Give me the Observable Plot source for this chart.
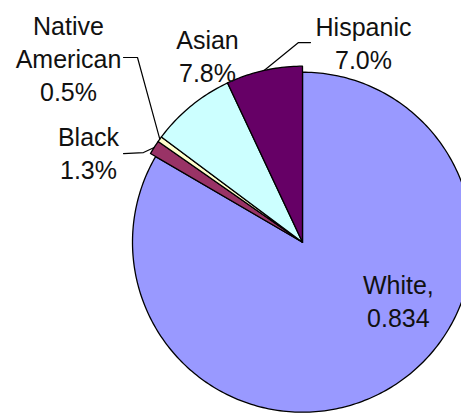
<!DOCTYPE html>
<html>
<head>
<meta charset="utf-8">
<script src="https://cdn.jsdelivr.net/npm/d3@7"></script>
<script src="https://cdn.jsdelivr.net/npm/@observablehq/plot@0.6"></script>
<style>
  html, body { margin: 0; padding: 0; background: #fff; }
  #chart { width: 461px; height: 413px; overflow: hidden; }
</style>
</head>
<body>
<div id="chart"></div>
<script>
// ---- data ----
const categories = ["White", "Black", "Native American", "Asian", "Hispanic"];
const shares = [83.4, 1.3, 0.5, 7.8, 7.0];
const labels = ["White,\n0.834", "Black\n1.3%", "Native\nAmerican\n0.5%", "Asian\n7.8%", "Hispanic\n7.0%"];
const colors = ["#9999FF", "#993366", "#FFFFCC", "#CCFFFF", "#660066"];

// ---- layout / style ----
const W = 461, H = 413;
const cx = 302, cy = 241.7;
const R = 170, Rsmall = 176;
const radiusOf = i => (i === 0 ? R : Rsmall);
// label placement relative to slice bisector anchor (anchor radius factor, pixel offsets)
const labelLayout = {
  "White": {rf: 0.6, dx: 45, dy: -31, leader: null},
  "Black": {rf: 1, dx: -65.7, dy: 4.6, leader: [[35, 1.5], [55, 0.5]]},
  "Native American": {rf: 1, dx: -91.3, dy: -81.7, leader: [[55, 0], [69, 0]]},
  "Asian": {rf: 1, dx: 16.3, dy: -51.4, leader: null},
  "Hispanic": {rf: 1, dx: 99.4, dy: -28.9, leader: [[-53, 1], [-65, 1]]}
};

const table = categories.map((c, i) => ({category: c, value: shares[i], label: labels[i], color: colors[i], i}));
const arcs = d3.pie().sort(null).value(d => d.value)(table);

const px = (a, r) => cx + r * Math.sin(a);
const py = (a, r) => cy - r * Math.cos(a);

// slice polygons
const slicePts = [];
arcs.forEach(a => {
  const r = radiusOf(a.data.i);
  slicePts.push({category: a.data.category, color: a.data.color, x: cx, y: cy});
  const n = Math.max(2, Math.ceil((a.endAngle - a.startAngle) / (Math.PI / 180)));
  for (let k = 0; k <= n; k++) {
    const t = a.startAngle + (a.endAngle - a.startAngle) * k / n;
    slicePts.push({category: a.data.category, color: a.data.color, x: px(t, r), y: py(t, r)});
  }
});

// labels and leaders
const labelPts = [];
const leaderPts = [];
arcs.forEach(a => {
  const L = labelLayout[a.data.category];
  const mid = (a.startAngle + a.endAngle) / 2;
  const r = radiusOf(a.data.i) * L.rf;
  const ax = px(mid, r), ay = py(mid, r);
  const lx = ax + L.dx, ly = ay + L.dy;
  labelPts.push({label: a.data.label, x: lx, y: ly});
  if (L.leader) {
    L.leader.forEach(([ox, oy]) => leaderPts.push({category: a.data.category, x: lx + ox, y: ly + oy}));
    leaderPts.push({category: a.data.category, x: ax, y: ay});
  }
});

const chart = Plot.plot({
  width: W,
  height: H,
  margin: 0,
  x: {type: "linear", domain: [0, W], range: [0, W], axis: null},
  y: {type: "linear", domain: [0, H], range: [0, H], axis: null},
  color: {type: "identity"},
  style: {background: "#fff"},
  marks: [
    Plot.line(slicePts, {x: "x", y: "y", z: "category", fill: "color", stroke: "#000", strokeWidth: 1.3, curve: "linear-closed", strokeLinejoin: "round"}),
    Plot.line(leaderPts, {x: "x", y: "y", z: "category", stroke: "#000", strokeWidth: 1.2}),
    Plot.text(labelPts, {x: "x", y: "y", text: "label", fill: "#111", fontSize: 25, fontFamily: "'Liberation Sans', Arial, sans-serif", textAnchor: "middle", lineAnchor: "middle", lineHeight: 1.32})
  ]
});
document.getElementById("chart").appendChild(chart);
</script>
</body>
</html>
